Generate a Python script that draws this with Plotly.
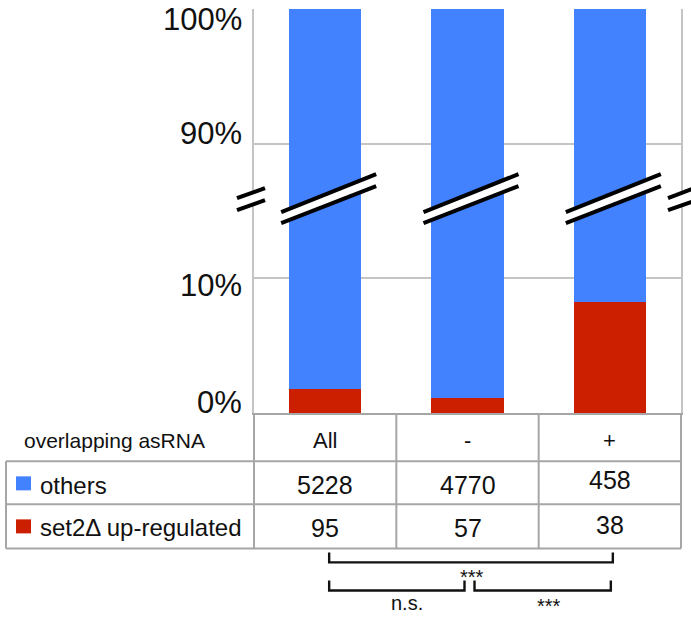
import plotly.graph_objects as go

# ---------------- data ----------------
categories = ["All", "-", "+"]
others_counts = [5228, 4770, 458]
up_counts = [95, 57, 38]
up_pct = [1.75, 1.12, 8.28]          # red bar heights (%)
tick_pct = [0, 10, 90, 100]
tick_labels = ["0%", "10%", "90%", "100%"]
header_label = "overlapping asRNA"
row_labels = ["others", "set2Δ up-regulated"]
sig_labels = ["***", "n.s.", "***"]

BLUE = "#4282FF"
RED = "#CC1F00"
FONT = "Arial, Liberation Sans, sans-serif"


def disp(p):
    """broken-axis transform: 0-10% full scale, 10-90% compressed, 90-100% full scale"""
    if p <= 10:
        return p
    if p <= 90:
        return 10 + (p - 10) / 8.0
    return 20 + (p - 90)


# ---------------- geometry helpers ----------------
W, H = 691, 620
L, R, T, B = 254, 10, 9, 207.3
PW = W - L - R
PH = H - T - B


def px(x):
    return (x - L) / PW


def py(y):
    return (H - B - y) / PH


def xd2px(xd):
    return L + (xd + 0.5) / 3.0 * PW


xs = list(range(len(categories)))
red_disp = [disp(p) for p in up_pct]
blue_disp = [disp(100) - disp(p) for p in up_pct]

fig = go.Figure()
fig.add_trace(go.Bar(x=xs, y=red_disp, marker=dict(color=RED, line=dict(width=0)),
                     width=0.51, name="set2Δ up-regulated", showlegend=False))
fig.add_trace(go.Bar(x=xs, y=blue_disp, marker=dict(color=BLUE, line=dict(width=0)),
                     width=0.51, name="others", showlegend=False))

shapes = []
annotations = []

GRIDC = "#C4C4C4"
TABC = "#A6A6A6"


def line(x0, y0, x1, y1, color=TABC, width=2):
    shapes.append(dict(type="line", xref="paper", yref="paper",
                       x0=px(x0), y0=py(y0), x1=px(x1), y1=py(y1),
                       line=dict(color=color, width=width), layer="above"))


def text(x, y, s, size, xanchor="center", color="#111111"):
    annotations.append(dict(x=px(x), y=py(y), xref="paper", yref="paper", text=s,
                            showarrow=False, xanchor=xanchor, yanchor="middle",
                            font=dict(family=FONT, size=size, color=color)))


# y tick labels (placed slightly off their gridlines like the reference)
tick_shift = [-10, 7, -10, 10]
for p, lab, sh in zip(tick_pct, tick_labels, tick_shift):
    ypix = H - B - disp(p) / 30.0 * PH + sh
    text(244, ypix, lab, 31, xanchor="right")

# ---------- table ----------
col_edges = [xd2px(e) for e in (-0.5, 0.5, 1.5, 2.5)]
row_y = [H - B, 461, 504, 548]
for yy in row_y[1:]:
    line(6, yy, col_edges[-1], yy)
for xx in col_edges:
    line(xx, row_y[0], xx, row_y[-1])
line(6, row_y[1], 6, row_y[-1])

text(114, 440, header_label, 21)
for i, c in enumerate(categories):
    text(xd2px(i), 440, c, 22)

# legend swatches + row labels
shapes.append(dict(type="rect", xref="paper", yref="paper", x0=px(16), x1=px(31),
                   y0=py(490), y1=py(476), fillcolor=BLUE, line=dict(width=0)))
shapes.append(dict(type="rect", xref="paper", yref="paper", x0=px(16), x1=px(31),
                   y0=py(533), y1=py(519), fillcolor=RED, line=dict(width=0)))
text(38, 485, row_labels[0], 24, xanchor="left")
text(38, 527, row_labels[1], 24, xanchor="left")

oth_y = [485, 485, 480]
up_y = [528, 528, 525]
for i in range(3):
    text(xd2px(i), oth_y[i], str(others_counts[i]), 25)
    text(xd2px(i), up_y[i], str(up_counts[i]), 25)

# ---------- significance brackets ----------
def bracket(x0, x1, ytop, ybot):
    shapes.append(dict(type="path", xref="paper", yref="paper",
                       path="M {} {} L {} {} L {} {} L {} {}".format(
                           px(x0), py(ytop), px(x0), py(ybot), px(x1), py(ybot), px(x1), py(ytop)),
                       line=dict(color="#111111", width=2.4)))


c0, c1, c2 = xd2px(0), xd2px(1), xd2px(2)
bracket(c0 + 4, c2 + 3, 552, 562)
bracket(c0 + 4, c1 - 3, 580, 590)
bracket(c1 + 7, c2 + 1, 580, 590)
text((c0 + c2) / 2 + 4, 577, sig_labels[0], 20)
text((c0 + c1) / 2 + 11, 603, sig_labels[1], 20)
text((c1 + c2) / 2 + 10, 606, sig_labels[2], 20)

# ---------- axis break marks ----------
def break_mark(xa, xb, ya_up, yb_up, ya_lo, yb_lo):
    shapes.append(dict(type="path", xref="paper", yref="paper",
                       path="M {} {} L {} {} L {} {} L {} {} Z".format(
                           px(xa), py(ya_up), px(xb), py(yb_up), px(xb), py(yb_lo), px(xa), py(ya_lo)),
                       fillcolor="white", line=dict(width=0), layer="above"))
    line(xa, ya_up, xb, yb_up, color="black", width=4)
    line(xa, ya_lo, xb, yb_lo, color="black", width=4)


for i in range(3):
    cx = xd2px(i)
    break_mark(cx - 44, cx + 51, 212, 174, 223, 186)
break_mark(237, 265, 198, 188, 210, 200)
break_mark(668, 694, 198, 188, 210, 201)

fig.update_layout(
    width=W, height=H, autosize=False,
    margin=dict(l=L, r=R, t=T, b=B, pad=0),
    paper_bgcolor="white", plot_bgcolor="white",
    barmode="stack", bargap=0,
    showlegend=False,
    shapes=shapes, annotations=annotations,
    xaxis=dict(range=[-0.5, 2.5], showticklabels=False, showgrid=False, zeroline=False,
               showline=True, linecolor=TABC, linewidth=2, ticks=""),
    yaxis=dict(range=[0, 30], tickvals=[disp(p) for p in tick_pct], showticklabels=False,
               showgrid=True, gridcolor=GRIDC, gridwidth=1.5, zeroline=False,
               showline=True, linecolor=GRIDC, linewidth=1.5, mirror=True, ticks=""),
)

fig.write_html("out.html", config={"displayModeBar": False},
               post_script="document.body.style.margin='0';")
